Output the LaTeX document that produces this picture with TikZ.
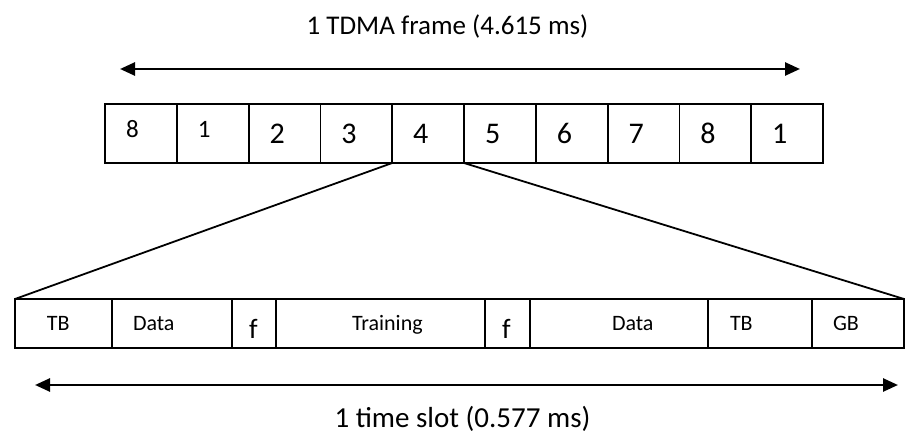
\documentclass[tikz,border=0pt]{standalone}
\usepackage{fontspec}
\setmainfont{Carlito}
\usetikzlibrary{arrows.meta,positioning}

\begin{document}
\begin{tikzpicture}
        [x=1pt, y=-1pt,
         slot/.style={draw, line width=1.8pt, minimum width=71.8pt, minimum height=59pt, inner sep=0pt, outer sep=0pt,
                      text width=71.8pt, align=left, text depth=0pt,
                      execute at begin node={\hspace*{21pt}}},
         field/.style 2 args={draw, line width=1.8pt, minimum height=49pt, inner sep=0pt, outer sep=0pt,
                      text width=#1pt, align=left, text height=14pt, text depth=0pt,
                      font=\fontsize{22}{26}\selectfont, execute at begin node={\hspace*{#2pt}}},
         gap/.style={field={#1}{17}, text height=29pt, font=\fontsize{28}{32}\selectfont},
         span/.style={line width=2.6pt, <->, >={Triangle[length=15pt,width=13pt]}},
         fan/.style={line width=1.8pt},
         heading/.style={anchor=base, inner sep=0pt}]
        \useasboundingbox (0,0) rectangle (905,433);
        % TDMA frame
        \foreach \n/\sz/\hgt [count=\i from 0] in {8/25/9,1/25/9,2/30/21,3/30/21,4/30/20,5/30/20,6/30/20,7/30/20,8/30/20,1/30/20}
          \node[slot, font=\fontsize{\sz}{\sz}\selectfont, text height=\hgt pt] (s\i) at ({140.9+71.8*\i},133.5) {\n};
        \coordinate (fl) at (120,69);
        \coordinate (fr) at (800,69);
        \draw[span] (fl) -- (fr);
        \node[heading, font=\fontsize{27}{31}\selectfont] (frame) at (447.5,35) {1 TDMA frame (4.615 ms)};
        % one time slot
        \node[field={97}{32}, anchor=west] (f1) at (15,323.5) {TB};
        \node[field={120}{21}, right=0pt of f1] (f2) {Data};
        \node[gap=44, right=0pt of f2] (f3) {f};
        \node[field={209}{76}, right=0pt of f3] (f4) {Training};
        \node[gap=45, right=0pt of f4] (f5) {f};
        \node[field={178}{82}, right=0pt of f5] (f6) {Data};
        \node[field={104}{22}, right=0pt of f6] (f7) {TB};
        \node[field={92}{21}, right=0pt of f7] (f8) {GB};
        \draw[fan] (s4.south west) -- (f1.north west);
        \draw[fan] (s4.south east) -- (f8.north east);
        \coordinate (tl) at (35,385);
        \coordinate (tr) at (898,385);
        \draw[span] (tl) -- (tr);
        \node[heading, font=\fontsize{29}{33}\selectfont] (slotlen) at (462.5,427) {1 time slot (0.577 ms)};
\end{tikzpicture}
\end{document}
